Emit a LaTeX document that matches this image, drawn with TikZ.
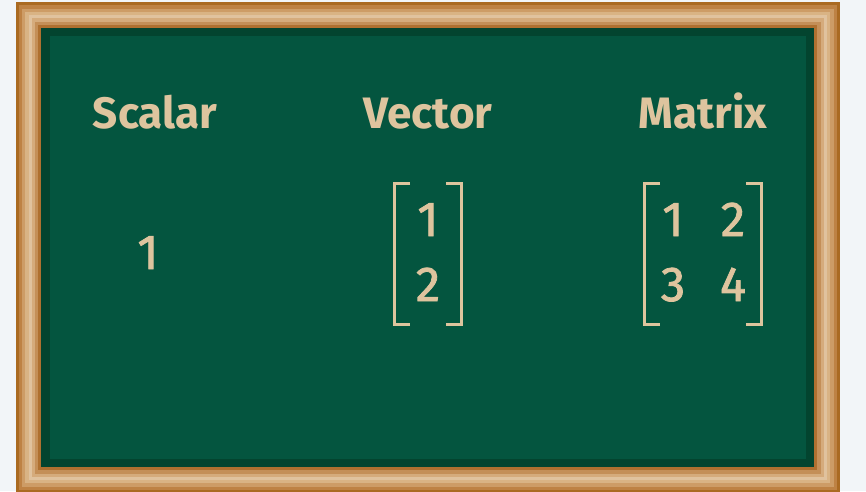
\documentclass[tikz,border=0pt]{standalone}
\usepackage{fontspec}
\setmainfont{Fira Sans}
\newfontfamily\headfont{Fira Sans}
\newfontfamily\digitfont[FakeBold=1.6]{Fira Sans}
\definecolor{bg}{HTML}{F2F5F8}
\definecolor{boardedge}{HTML}{03442F}
\definecolor{board}{HTML}{04553F}
\definecolor{chalk}{HTML}{DEC49E}
\tikzset{
  head/.style={text=chalk, font=\headfont\bfseries\fontsize{44}{50}\selectfont, anchor=base, inner sep=0pt},
  num/.style={text=chalk, font=\digitfont\fontsize{49}{54}\selectfont, anchor=base, inner sep=0pt},
  brack/.style={draw=chalk, line width=3pt, miter limit=10}
}
\begin{document}
\begin{tikzpicture}[x=1pt,y=-1pt]
\useasboundingbox (0,0) rectangle (866,491);
\fill[bg] (0,0) rectangle (866,491);
\foreach \k/\c in {0/AA6A22,1/BE8244,2/CD9C66,3/D9B384,4/E0C29E,5/D5AB7C,6/C48F58,7/AF7030}{
  \definecolor{tmp}{HTML}{\c}
  \fill[tmp] ({16+\k*3.125},{2+\k*3.25}) rectangle ({840-\k*3.25},{493-\k*3.25});
}
\fill[boardedge] (41,28) rectangle (814,467);
\fill[board] (50,36) rectangle (806,459);
% headings
\node[head] (scalar) at (155,128) {Scalar};
\node[head] (vector) at (428,128) {Vector};
\node[head] (matrix) at (703,128) {Matrix};
% scalar
\node[num] (s1) at (148,269) {1};
% vector
\node[num] (v1) at (428,236) {1};
\node[num] (v2) at (428,301) {2};
\draw[brack] (410,183.5) -- (394.5,183.5) -- (394.5,324.5) -- (410,324.5);
\draw[brack] (446,183.5) -- (461.5,183.5) -- (461.5,324.5) -- (446,324.5);
% matrix
\node[num] (m11) at (673,236) {1};
\node[num] (m12) at (733,236) {2};
\node[num] (m21) at (673,301) {3};
\node[num] (m22) at (733,301) {4};
\draw[brack] (660,183.5) -- (644.5,183.5) -- (644.5,324.5) -- (660,324.5);
\draw[brack] (746,183.5) -- (761.5,183.5) -- (761.5,324.5) -- (746,324.5);
\end{tikzpicture}
\end{document}
